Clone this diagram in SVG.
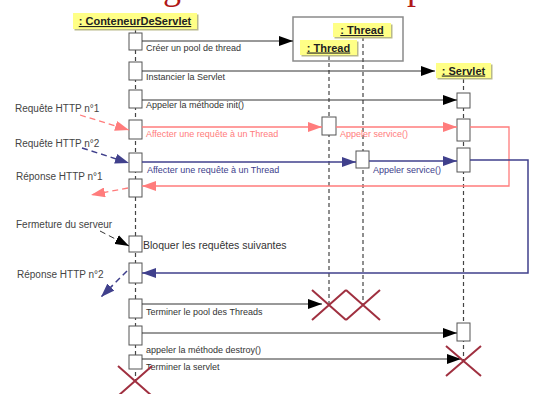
<svg xmlns="http://www.w3.org/2000/svg" width="533" height="394" viewBox="0 0 533 394">
<style>
.hdr{fill:#ffff86;stroke:none}
.shd{fill:#b9b98a}
.ht{font-family:"Liberation Sans",Arial,sans-serif;font-weight:bold;font-size:11px;fill:#222;text-decoration:underline}
.act{fill:#fff;stroke:#555;stroke-width:1}
.life{stroke:#444;stroke-width:1.2;stroke-dasharray:4,3;fill:none}
.msg{stroke:#333;stroke-width:1;fill:none}
.red{stroke:#ff7c7c;stroke-width:1.3;fill:none}
.blue{stroke:#40408c;stroke-width:1.5;fill:none}
.dash{stroke-dasharray:6,4}
.lbl{font-family:"Liberation Sans",Arial,sans-serif;font-size:9px;fill:#333}
.side{font-family:"Liberation Sans",Arial,sans-serif;font-size:10px;fill:#444}
.rt{fill:#ff7c7c}
.bt{fill:#40408c}
.x{stroke:#a03040;stroke-width:2;fill:none}
</style>
<defs>
<marker id="ak" markerUnits="userSpaceOnUse" markerWidth="14" markerHeight="10" refX="14" refY="5" orient="auto"><path d="M0,0 L14,5 L0,10 z" fill="#000"/></marker>
<marker id="ar" markerUnits="userSpaceOnUse" markerWidth="14" markerHeight="10" refX="14" refY="5" orient="auto"><path d="M0,0 L14,5 L0,10 z" fill="#ff7c7c"/></marker>
<marker id="ab" markerUnits="userSpaceOnUse" markerWidth="14" markerHeight="10" refX="14" refY="5" orient="auto"><path d="M0,0 L14,5 L0,10 z" fill="#40408c"/></marker>
</defs>
<rect width="533" height="394" fill="#fff"/>
<text x="163" y="-1" font-family="'Liberation Serif',serif" font-size="36" fill="#b01818">g</text>
<text x="407" y="-1" font-family="'Liberation Serif',serif" font-size="36" fill="#b01818">p</text>

<g id="threadpool">
<rect x="293" y="17" width="110" height="44" fill="#fff" stroke="#8a8a8a" stroke-width="1.5"/>
</g>

<g id="lifelines">
<line class="life" x1="135.5" y1="29" x2="135.5" y2="380"/>
<line class="life" x1="329" y1="56" x2="329" y2="305"/>
<line class="life" x1="363" y1="37" x2="363" y2="305"/>
<line class="life" x1="463.5" y1="79" x2="463.5" y2="362"/>
</g>

<g id="conteneur">
<rect class="shd" x="74.5" y="14.5" width="124" height="16"/>
<rect class="hdr" x="73" y="13" width="124" height="16"/>
<text class="ht" x="135" y="25" text-anchor="middle">: ConteneurDeServlet</text>
</g>
<g id="thread2">
<rect class="shd" x="334.5" y="24.5" width="58" height="14"/>
<rect class="hdr" x="333" y="23" width="58" height="14"/>
<text class="ht" x="362" y="34" text-anchor="middle">: Thread</text>
</g>
<g id="thread1">
<rect class="shd" x="301.5" y="41.5" width="57" height="15"/>
<rect class="hdr" x="300" y="40" width="57" height="15"/>
<text class="ht" x="328.5" y="51.5" text-anchor="middle">: Thread</text>
</g>
<g id="servlet">
<rect class="shd" x="437.5" y="64.5" width="55" height="15"/>
<rect class="hdr" x="436" y="63" width="55" height="15"/>
<text class="ht" x="463.5" y="74.5" text-anchor="middle">: Servlet</text>
</g>

<g id="activations">
<rect class="act" x="129" y="33" width="13" height="17"/>
<rect class="act" x="129" y="62" width="13" height="18"/>
<rect class="act" x="129" y="90" width="13" height="18"/>
<rect class="act" x="129" y="120" width="13" height="19"/>
<rect class="act" x="129" y="153" width="13" height="19"/>
<rect class="act" x="129" y="179" width="13" height="18"/>
<rect class="act" x="129" y="236" width="13" height="16"/>
<rect class="act" x="129" y="263" width="13" height="20"/>
<rect class="act" x="129" y="299" width="13" height="19"/>
<rect class="act" x="129" y="326" width="13" height="19"/>
<rect class="act" x="129" y="355" width="13" height="14"/>
<rect class="act" x="322" y="117" width="14" height="18"/>
<rect class="act" x="356" y="151" width="13" height="17"/>
<rect class="act" x="457" y="93" width="13" height="15"/>
<rect class="act" x="457" y="119" width="13" height="22"/>
<rect class="act" x="457" y="148" width="13" height="24"/>
<rect class="act" x="457" y="323" width="13" height="18"/>
</g>

<g id="connectors">
<line class="msg" x1="142" y1="41" x2="293" y2="41" marker-end="url(#ak)"/>
<line class="msg" x1="142" y1="71" x2="435" y2="71" marker-end="url(#ak)"/>
<line class="msg" x1="142" y1="100" x2="457" y2="100" marker-end="url(#ak)"/>
<line class="red" x1="142" y1="127" x2="322" y2="127" marker-end="url(#ar)"/>
<line class="red" x1="336" y1="127" x2="457" y2="127" marker-end="url(#ar)"/>
<polyline class="red" points="470,127 509,127 509,186 142,186" marker-end="url(#ar)"/>
<line class="blue" x1="142" y1="162" x2="356" y2="162" marker-end="url(#ab)"/>
<line class="blue" x1="369" y1="161" x2="457" y2="161" marker-end="url(#ab)"/>
<polyline class="blue" points="470,160 528,160 528,273 142,273" marker-end="url(#ab)"/>
<line class="msg" x1="142" y1="304" x2="322" y2="304" marker-end="url(#ak)"/>
<line class="msg" x1="142" y1="333" x2="457" y2="333" marker-end="url(#ak)"/>
<line class="msg" x1="142" y1="359" x2="461" y2="359" marker-end="url(#ak)"/>
<line class="red dash" x1="80" y1="115" x2="129" y2="130" marker-end="url(#ar)"/>
<line class="blue dash" x1="82" y1="148" x2="129" y2="163" marker-end="url(#ab)"/>
<line class="red dash" x1="128" y1="188" x2="91" y2="195" marker-end="url(#ar)"/>
<line class="msg dash" x1="100" y1="231" x2="129" y2="246" marker-end="url(#ak)"/>
<line class="blue dash" x1="127" y1="271" x2="101" y2="297" marker-end="url(#ab)"/>
</g>

<g id="labels">
<text class="lbl" x="146" y="51">Créer un pool de thread</text>
<text class="lbl" x="146" y="80">Instancier la Servlet</text>
<text class="lbl" x="146" y="108">Appeler la méthode init()</text>
<text class="lbl rt" x="146" y="137">Affecter une requête à un Thread</text>
<text class="lbl rt" x="340" y="137">Appeler service()</text>
<text class="lbl bt" x="147" y="173">Affecter une requête à un Thread</text>
<text class="lbl bt" x="373" y="173">Appeler service()</text>
<text class="lbl" x="143" y="249" style="font-size:10.5px">Bloquer les requêtes suivantes</text>
<text class="lbl" x="146" y="315">Terminer le pool des Threads</text>
<text class="lbl" x="146" y="353">appeler la méthode destroy()</text>
<text class="lbl" x="146" y="370">Terminer la servlet</text>
<text class="side" x="15" y="112">Requête HTTP n°1</text>
<text class="side" x="15" y="147">Requête HTTP n°2</text>
<text class="side" x="16" y="180">Réponse HTTP n°1</text>
<text class="side" x="16" y="228">Fermeture du serveur</text>
<text class="side" x="17" y="278">Réponse HTTP n°2</text>
</g>

<g id="destructions">
<path class="x" d="M312,290 L346,320 M312,320 L346,290"/>
<path class="x" d="M346,290 L380,320 M346,320 L380,290"/>
<path class="x" d="M446,346 L481,376 M446,376 L481,346"/>
<path class="x" d="M118,366 L152,396 M118,396 L152,366"/>
</g>
</svg>
